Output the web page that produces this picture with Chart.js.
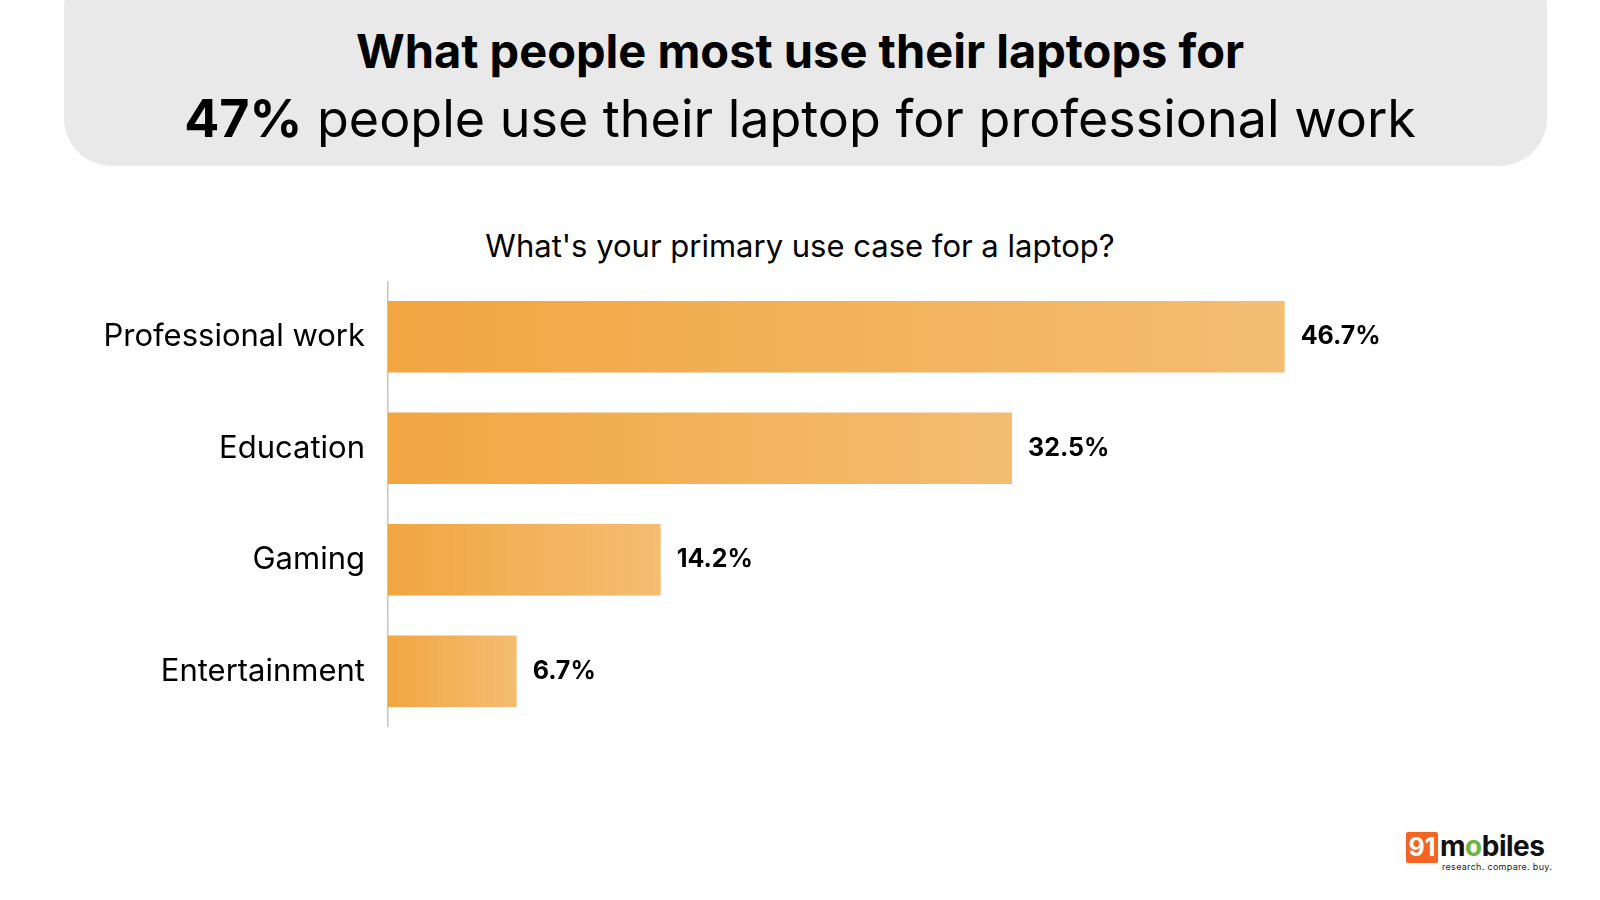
<!DOCTYPE html>
<html>
<head>
<meta charset="utf-8">
<script src="https://cdn.jsdelivr.net/npm/chart.js@4.4.1/dist/chart.umd.min.js"></script>
<style>
  html, body { margin:0; padding:0; background:#fff; }
  body { width:1600px; height:900px; position:relative; overflow:hidden; font-family:Inter, "Noto Sans", sans-serif; color:#000; }
  #header { position:absolute; left:64px; top:-40px; width:1483px; height:206px; background:#e9e9e9; border-radius:48px; }
  #title1 { position:absolute; left:0; width:1600px; top:23px; text-align:center; font-size:47px; font-weight:700; line-height:56px; }
  #title2 { position:absolute; left:0; width:1600px; top:87px; text-align:center; font-size:52px; font-weight:400; line-height:64px; }
  #title2 b { font-weight:700; }
  #subtitle { position:absolute; left:0; width:1600px; top:226px; text-align:center; font-size:31px; line-height:40px; }
  #chart-wrap { position:absolute; left:0; top:281px; width:1600px; height:446px; }
  #logo { position:absolute; left:1406px; top:830px; height:50px; width:160px; }
  #logo .box { position:absolute; left:0; top:2px; width:32px; height:31px; background:#f26522; color:#fff; font-weight:700; font-size:25px; line-height:31px; text-align:center; border-radius:2px; }
  #logo .word { position:absolute; left:34px; top:-2px; font-size:28px; font-weight:700; letter-spacing:-0.5px; color:#111; line-height:36px; }
  #logo .word span { color:#6cb33f; }
  #logo .tag { position:absolute; left:36px; top:31px; font-size:9px; color:#222; letter-spacing:0.3px; white-space:nowrap; }
</style>
</head>
<body>
<div id="header"></div>
<div id="title1">What people most use their laptops for</div>
<div id="title2"><b>47%</b> people use their laptop for professional work</div>
<div id="subtitle">What's your primary use case for a laptop?</div>
<div id="chart-wrap"><canvas id="chart"></canvas></div>
<div id="logo">
  <div class="box">91</div>
  <div class="word">m<span>o</span>biles</div>
  <div class="tag">research. compare. buy.</div>
</div>
<script>
// Data
const categories = ['Professional work', 'Education', 'Gaming', 'Entertainment'];
const shares = [46.7, 32.5, 14.2, 6.7];
const valueLabels = ['46.7%', '32.5%', '14.2%', '6.7%'];

const gradLeft = '#f1a641';
const gradRight = '#f4bd72';

// Gradient per bar, from the zero line to the bar's end
function barFill(ctx){
  const chart = ctx.chart;
  const xScale = chart.scales.x;
  if(!chart.chartArea || !xScale || ctx.raw === undefined) return gradLeft;
  const x0 = xScale.getPixelForValue(0);
  const x1 = xScale.getPixelForValue(ctx.raw);
  if(!isFinite(x0) || !isFinite(x1) || x1 <= x0) return gradLeft;
  const g = chart.ctx.createLinearGradient(x0, 0, x1, 0);
  g.addColorStop(0, gradLeft);
  g.addColorStop(1, gradRight);
  return g;
}

// Value labels at the end of each bar
const valueLabelPlugin = {
  id: 'valueLabels',
  afterDatasetsDraw(chart){
    const ctx = chart.ctx;
    const meta = chart.getDatasetMeta(0);
    ctx.save();
    ctx.font = '700 25px Inter, "Noto Sans", sans-serif';
    ctx.fillStyle = '#000';
    ctx.textAlign = 'left';
    ctx.textBaseline = 'middle';
    meta.data.forEach((bar, i)=>{
      ctx.fillText(valueLabels[i], bar.x + 16, bar.y);
    });
    ctx.restore();
  }
};

new Chart(document.getElementById('chart'), {
  type: 'bar',
  data: {
    labels: categories,
    datasets: [{
      data: shares,
      backgroundColor: barFill,
      borderWidth: 0,
      barPercentage: 0.8,
      categoryPercentage: 0.8
    }]
  },
  options: {
    indexAxis: 'y',
    responsive: true,
    maintainAspectRatio: false,
    animation: false,
    layout: { padding: { left: 0, right: 60, top: 0, bottom: 0 } },
    plugins: { legend: { display: false }, tooltip: { enabled: false } },
    scales: {
      x: { display: false, min: 0, max: 60 },
      y: {
        grid: { display: false, drawTicks: false },
        border: { display: true, color: '#c4c4c4', width: 1.5 },
        ticks: {
          color: '#000',
          padding: 23,
          font: { family: 'Inter, "Noto Sans", sans-serif', size: 31 }
        },
        afterFit(scale){
          scale.width = 388;
          scale.paddingTop = 0;
          scale.paddingBottom = 0;
        }
      }
    }
  },
  plugins: [valueLabelPlugin]
});
</script>
</body>
</html>
